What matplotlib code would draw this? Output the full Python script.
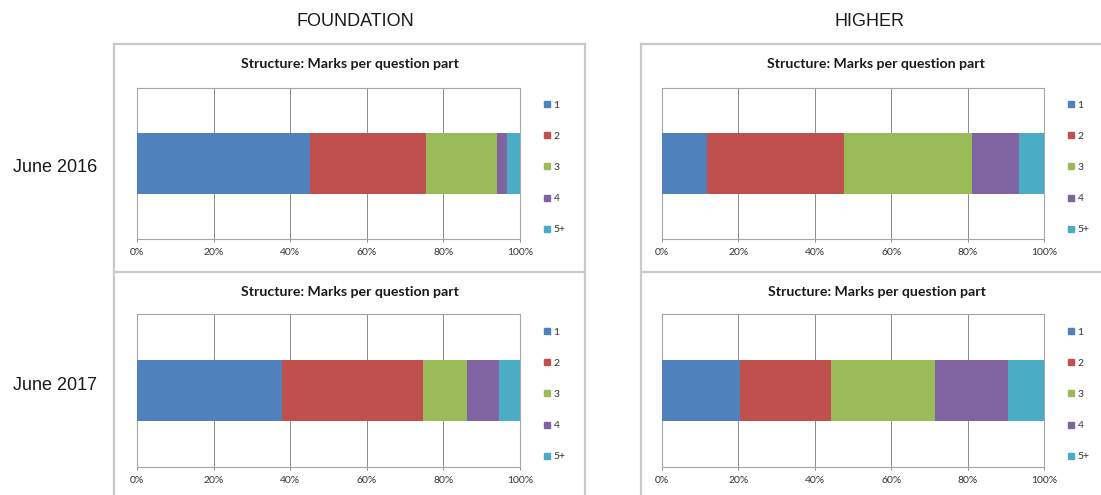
import matplotlib
matplotlib.use("Agg")
import matplotlib.pyplot as plt
from matplotlib.lines import Line2D
from matplotlib.ticker import FuncFormatter

# ---- data ----
categories = ["1", "2", "3", "4", "5+"]
colors = ["#4F81BD", "#C0504D", "#9BBB59", "#8064A2", "#4BACC6"]
foundation_2016 = [45.2, 30.3, 18.4, 2.6, 3.5]
higher_2016 = [11.8, 35.9, 33.4, 12.4, 6.5]
foundation_2017 = [37.8, 37.0, 11.3, 8.4, 5.5]
higher_2017 = [20.5, 23.7, 27.3, 19.2, 9.3]
col_titles = ["FOUNDATION", "HIGHER"]
row_titles = ["June 2016", "June 2017"]
chart_title = "Structure: Marks per question part"
x_ticks = [0, 20, 40, 60, 80, 100]

W, H = 1101, 495
fig = plt.figure(figsize=(W / 100, H / 100), dpi=100)
fig.patch.set_facecolor("white")

def fx(px):
    return px / W

def fy(py):
    return 1 - py / H

# panel borders
border_col = "#c9c9c9"
for (x0, x1) in [(114, 585), (641, 1101)]:
    for yy in (44, 272):
        fig.add_artist(Line2D([fx(x0), fx(x1)], [fy(yy), fy(yy)], color=border_col, lw=1.6))
for xx in (114, 585, 641):
    fig.add_artist(Line2D([fx(xx), fx(xx)], [fy(44), fy(495)], color=border_col, lw=1.6))

# (values, plot left, plot right, plot top, plot bottom, title y, title centre x)
panels = [
    (foundation_2016, 137, 520, 88, 239, 64, 350),
    (higher_2016, 662, 1044, 88, 239, 64, 876),
    (foundation_2017, 137, 520, 314, 467, 292, 350),
    (higher_2017, 662, 1044, 314, 467, 292, 877),
]

small_font = "Lato"
for vals, x0, x1, y0, y1, ty, tx in panels:
    ax = fig.add_axes([fx(x0), fy(y1), (x1 - x0) / W, (y1 - y0) / H])
    left = 0
    handles = []
    for v, c, lab in zip(vals, colors, categories):
        ax.barh([0], [v], left=[left], height=0.4, color=c, edgecolor="none", zorder=3)
        left += v
        handles.append(Line2D([], [], marker="s", ls="none", color=c, markersize=4, label=lab))
    ax.set_xlim(0, 100)
    ax.set_ylim(-0.5, 0.5)
    ax.set_xticks(x_ticks)
    ax.xaxis.set_major_formatter(FuncFormatter(lambda v, p: f"{int(v)}%"))
    ax.set_yticks([])
    ax.grid(axis="x", color="#8c8c8c", lw=0.7, zorder=0)
    for s in ax.spines.values():
        s.set_color("#a6a6a6")
        s.set_linewidth(0.8)
    ax.tick_params(axis="x", length=2.5, width=0.7, color="#8c8c8c", pad=4,
                   labelsize=7.5, labelcolor="#333333")
    for t in ax.get_xticklabels():
        t.set_fontfamily(small_font)
    leg = ax.legend(handles=handles, loc="center left", bbox_to_anchor=(1.062, 0.474),
                    frameon=False, handlelength=0.6, handletextpad=0.35,
                    labelspacing=2.1, borderpad=0, borderaxespad=0,
                    prop={"family": small_font, "size": 7.5})
    for t in leg.get_texts():
        t.set_color("#333333")
    fig.text(fx(tx), fy(ty), chart_title, ha="center", va="center",
             fontsize=10.2, fontweight="bold", family=small_font, color="#1a1a1a")

fig.text(fx(355), fy(22), col_titles[0], ha="center", va="center", fontsize=13,
         family="Liberation Sans", color="#1a1a1a")
fig.text(fx(870), fy(22), col_titles[1], ha="center", va="center", fontsize=13,
         family="Liberation Sans", color="#1a1a1a")
fig.text(fx(55), fy(167), row_titles[0], ha="center", va="center", fontsize=13,
         family="Liberation Sans", color="#1a1a1a")
fig.text(fx(55), fy(386), row_titles[1], ha="center", va="center", fontsize=13,
         family="Liberation Sans", color="#1a1a1a")

fig.savefig("out.png", dpi=100, facecolor="white")
